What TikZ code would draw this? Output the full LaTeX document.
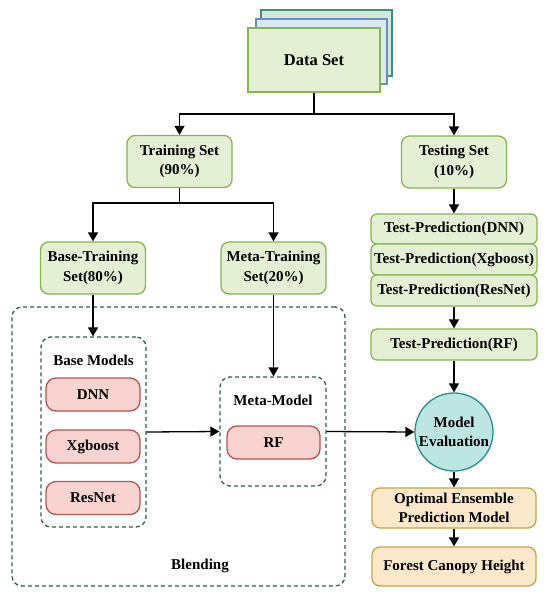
\documentclass[tikz,border=0pt]{standalone}
\usepackage{fontspec}
\setmainfont{Liberation Serif}
\usetikzlibrary{arrows.meta}
\definecolor{gfill}{HTML}{E3F0D3}
\definecolor{gdraw}{HTML}{86B650}
\definecolor{bfill}{HTML}{DAE8FC}
\definecolor{bdraw}{HTML}{6C8EBF}
\definecolor{tfill}{HTML}{D3E8DC}
\definecolor{tdraw}{HTML}{3F8F72}
\definecolor{rfill}{HTML}{F8D3D0}
\definecolor{rdraw}{HTML}{B85450}
\definecolor{cfill}{HTML}{BCE6E2}
\definecolor{cdraw}{HTML}{2A8F87}
\definecolor{ofill}{HTML}{FBE7CA}
\definecolor{odraw}{HTML}{C9A24A}
\definecolor{dgreen}{HTML}{2D5F4B}
\tikzset{
  txt/.style={font=\fontsize{15}{19.5}\selectfont\bfseries, align=center, inner sep=0pt},
  box/.style={txt, rectangle, line width=1.3pt, minimum width=#1},
  gbox/.style={box=105pt, draw=gdraw, fill=gfill, rounded corners=8pt, minimum height=52pt},
  pbox/.style={box=166pt, draw=gdraw, fill=gfill, rounded corners=6pt, minimum height=31pt},
  rbox/.style={box=94pt, draw=rdraw, fill=rfill, rounded corners=10pt, minimum height=33pt},
  obox/.style={box=164pt, draw=odraw, fill=ofill, rounded corners=8pt, minimum height=40pt},
  dbox/.style={rectangle, draw=dgreen, line width=1.3pt, dash pattern=on 4pt off 3pt, rounded corners=10pt, inner sep=0pt},
  arr/.style={line width=1.3pt, -{Triangle[length=9pt,width=10pt]}},
  ln/.style={line width=1.3pt}
}
\begin{document}
\begin{tikzpicture}[x=1pt,y=-1pt]
\useasboundingbox (0,0) rectangle (550,599);
% data set stack
\node[rectangle, draw=tdraw, fill=tfill, line width=1.3pt, minimum width=131pt, minimum height=66pt] (ds3) at (326.5,43) {};
\node[rectangle, draw=bdraw, fill=bfill, line width=1.3pt, minimum width=131pt, minimum height=65pt] (ds2) at (321.5,51.5) {};
\node[box=132pt, draw=gdraw, fill=gfill, minimum height=64pt, font=\fontsize{16.5}{20}\selectfont\bfseries] (ds) at (314,60) {Data Set};
% sets
\node[gbox] (train) at (179.5,161.5) {Training Set\\(90\%)};
\node[gbox] (test) at (454,162) {Testing Set\\(10\%)};
\node[gbox] (base) at (93,268) {Base-Training\\Set(80\%)};
\node[gbox] (meta) at (273.5,268) {Meta-Training\\Set(20\%)};
% test predictions
\node[pbox, minimum height=30pt] (tpd) at (454,229) {Test-Prediction(DNN)};
\node[pbox] (tpx) at (454,259.5) {Test-Prediction(Xgboost)};
\node[pbox] (tpr) at (454,290.5) {Test-Prediction(ResNet)};
\node[pbox] (tprf) at (454,344.5) {Test-Prediction(RF)};
% evaluation
\node[txt, circle, draw=cdraw, fill=cfill, line width=1.3pt, minimum size=78pt] (eval) at (454,432) {Model\\Evaluation};
\node[obox] (opt) at (454,508) {Optimal Ensemble\\Prediction Model};
\node[obox, minimum height=39pt] (fch) at (454,566.5) {Forest Canopy Height};
% blending
\node[dbox, minimum width=333pt, minimum height=279pt] (blend) at (178.5,446.5) {};
\node[txt] (blendlbl) at (200,566) {Blending};
\node[dbox, minimum width=105pt, minimum height=190pt] (basem) at (93.5,432) {};
\node[txt] (basemlbl) at (93.5,360) {Base Models};
\node[rbox] (dnn) at (93,394.5) {DNN};
\node[rbox] (xgb) at (93,446.5) {Xgboost};
\node[rbox] (resn) at (93,498) {ResNet};
\node[dbox, minimum width=106pt, minimum height=109pt] (metam) at (273,431.5) {};
\node[txt] (metamlbl) at (273,400) {Meta-Model};
\node[rbox, minimum width=93pt] (rf) at (273.5,442.5) {RF};
% connectors
\coordinate (s1) at (314,114);
\coordinate (s2) at (179.5,203);
\draw[ln] (ds.south) -- (s1);
\draw[arr] (s1) -| (train.north);
\draw[arr] (s1) -| (test.north);
\draw[ln] (train.south) -- (s2);
\draw[arr] (s2) -| (base.north);
\draw[arr] (s2) -| (meta.north);
\draw[arr] (base.south) -- (basem.north -| base.south);
\draw[arr] (meta.south) -- (metam.north -| meta.south);
\draw[arr] (test.south) -- (tpd.north);
\draw[arr] (tpr.south) -- (tprf.north);
\draw[arr] (tprf.south) -- (eval.north);
\draw[arr] (basem.east) -- (metam.west);
\draw[arr] (metam.east) -- (eval.west);
\draw[arr] (eval.south) -- (opt.north);
\draw[arr] (opt.south) -- (fch.north);
\end{tikzpicture}
\end{document}
